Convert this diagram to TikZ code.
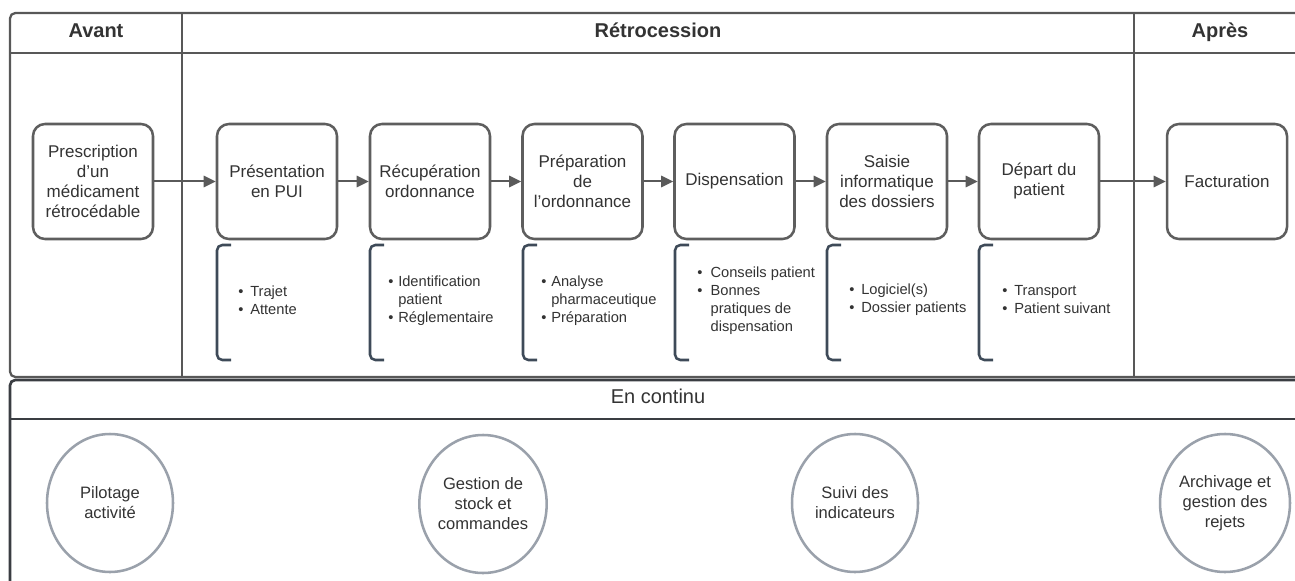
\documentclass[tikz,border=0pt]{standalone}
\usepackage{fontspec}
\setmainfont{Liberation Sans}
\usetikzlibrary{arrows.meta,shapes.geometric}
\definecolor{boxline}{HTML}{5E5E5E}
\definecolor{frameline}{HTML}{585858}
\definecolor{darkframe}{HTML}{3A3D42}
\definecolor{bracketc}{HTML}{3E4A58}
\definecolor{ellc}{HTML}{9AA1AB}
\definecolor{txt}{HTML}{333333}
\definecolor{arrowc}{HTML}{5A5A5A}
\newcommand\bul[2]{\makebox[#1pt][l]{•}#2}
\newcommand\ind[2]{\hspace*{#1pt}#2}
\newcommand\apo{\symbol{39}}
\begin{document}
\begin{tikzpicture}[x=0.75pt,y=-0.75pt,
  stepbox/.style={draw=boxline, line width=1.9pt, rounded corners=9pt, minimum width=90pt, minimum height=86.25pt, align=center, text=txt, font=\fontsize{12.75}{15}\selectfont, inner sep=0pt},
  blist/.style={anchor=west, align=left, inner sep=0pt, text=txt, font=\fontsize{11}{13.5}\selectfont},
  ell/.style={ellipse, draw=ellc, line width=1.9pt, minimum width=94.5pt, minimum height=103.5pt, inner sep=0pt, align=center, text=txt, font=\fontsize{12.4}{15}\selectfont},
  hdr/.style={text=txt, font=\bfseries\fontsize{15}{18}\selectfont, inner sep=0pt, anchor=base},
  arr/.style={draw=arrowc, line width=1.5pt, -{Triangle[length=9pt,width=8.5pt]}},
  brk/.style={draw=bracketc, line width=1.9pt, rounded corners=4pt},
  frm/.style={draw=frameline, line width=1.7pt},
  dfrm/.style={draw=darkframe, line width=2pt}]
\useasboundingbox (0,0) rectangle (1295,581);
\clip (0,0) rectangle (1295,581);
\fill[white] (0,0) rectangle (1295,581);
% top frame
\draw[frm, rounded corners=4pt] (1310,13) -- (10,13) -- (10,377) -- (1310,377);
\draw[frm] (10,53) -- (1310,53);
\draw[frm] (182,13) -- (182,377);
\draw[frm] (1134,13) -- (1134,377);
% bottom frame
\draw[dfrm, rounded corners=4pt] (1310,380) -- (10,380) -- (10,600);
\draw[dfrm] (10,419) -- (1310,419);
% headers
\node[hdr] (hAvant) at (96,37.5) {Avant};
\node[hdr] (hRetro) at (658,37.5) {Rétrocession};
\node[hdr] (hApres) at (1220,37.5) {Après};
\node[text=txt, font=\fontsize{15}{18}\selectfont, inner sep=0pt, anchor=base] (hCont) at (658,403.5) {En continu};
% boxes
\node[stepbox] (b1) at (93,181.5) {Prescription\\d\apo un\\médicament\\rétrocédable};
\node[stepbox] (b2) at (277,181.5) {Présentation\\en PUI};
\node[stepbox] (b3) at (430,181.5) {Récupération\\ordonnance};
\node[stepbox] (b4) at (582.5,181.5) {Préparation\\de\\l\apo ordonnance};
\node[stepbox] (b5) at (734.5,181.5) {Dispensation};
\node[stepbox] (b6) at (887,181.5) {Saisie\\informatique\\des dossiers};
\node[stepbox] (b7) at (1039,181.5) {Départ du\\patient};
\node[stepbox] (b8) at (1227,181.5) {Facturation};
% arrows
\draw[arr] (b1) -- (b2);
\draw[arr] (b2) -- (b3);
\draw[arr] (b3) -- (b4);
\draw[arr] (b4) -- (b5);
\draw[arr] (b5) -- (b6);
\draw[arr] (b6) -- (b7);
\draw[arr] (b7) -- (b8);
% brackets
\foreach \bx in {217,370,523,675,827,979}{
  \draw[brk] (\bx+14,245) -- (\bx,245) -- (\bx,360) -- (\bx+14,360);
}
% bullet lists
\node[blist] (l2) at (238,300) {\bul{9}{Trajet}\\\bul{9}{Attente}};
\node[blist] (l3) at (388,301) {\bul{7.5}{Identification}\\\ind{7.5}{patient}\\\bul{7.5}{Réglementaire}};
\node[blist] (l4) at (541,301) {\bul{7.5}{Analyse}\\\ind{7.5}{pharmaceutique}\\\bul{7.5}{Préparation}};
\node[blist] (l5) at (697,301) {\bul{10}{Conseils patient}\\\bul{10}{Bonnes}\\\ind{10}{pratiques de}\\\ind{10}{dispensation}};
\node[blist] (l6) at (849,300) {\bul{9}{Logiciel(s)}\\\bul{9}{Dossier patients}};
\node[blist] (l7) at (1002,300) {\bul{9}{Transport}\\\bul{9}{Patient suivant}};
% ellipses
\node[ell] (e1) at (110,503) {Pilotage\\activité};
\node[ell] (e2) at (483,504) {Gestion de\\stock et\\commandes};
\node[ell] (e3) at (855,503) {Suivi des\\indicateurs};
\node[ell] (e4) at (1225,503) {Archivage et\\gestion des\\rejets};
\end{tikzpicture}
\end{document}
